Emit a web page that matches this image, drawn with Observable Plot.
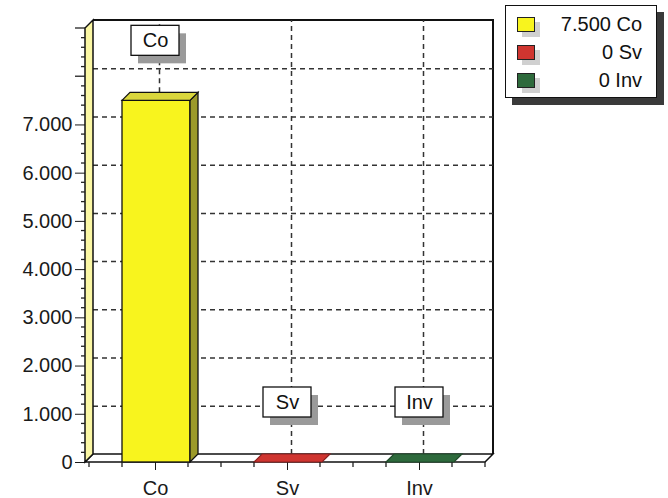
<!DOCTYPE html>
<html><head><meta charset="utf-8">
<script src="https://cdn.jsdelivr.net/npm/d3@7"></script>
<script src="https://cdn.jsdelivr.net/npm/@observablehq/plot@0.6"></script>
<style>
body{margin:0;background:#fff;}
#wrap{position:relative;width:668px;height:498px;font-family:"Liberation Sans",Arial,sans-serif;}
#legend{position:absolute;left:505px;top:5px;width:150px;height:91px;border:1.5px solid #111;background:#fff;box-shadow:7px 7px 0 #3a3a3a;}
.row{position:absolute;left:0;right:0;height:28px;}
.sw{position:absolute;left:11px;top:7px;width:16px;height:13px;border:1.2px solid #222;box-shadow:5px 5px 0 #d0d0d0;}
.lt{position:absolute;right:14px;top:0;line-height:28px;font-size:20px;color:#111;}
</style></head>
<body><div id="wrap"><div id="chart"></div><div id="legend"></div></div>
<script>
// ---- data ----
const categories = ["Co", "Sv", "Inv"];
const values = [7500, 0, 0];
const yTickValues = [0, 1000, 2000, 3000, 4000, 5000, 6000, 7000];
const yGridValues = [1000, 2000, 3000, 4000, 5000, 6000, 7000, 8000];
const yMax = 9000;

// ---- styles ----
const frontColors = ["#f8f41e", "#cf3530", "#2e6a3c"];
const topColors = ["#d9d63c", "#cf3530", "#2e6a3c"];
const sideColors = ["#9c9a2a", "#8a2020", "#1f4a2a"];
const D = 8; // 3D depth in px
const BAR_INSET_L = 33, BAR_INSET_R = 31;

const fmt = v => d3.format(",")(v).replace(/,/g, ".");
const data = categories.map((c, i) => ({cat: c, value: values[i], i}));

const custom = draw => (index, scales, vals, dims) => {
  const g = d3.create("svg:g");
  draw(g, scales.x, scales.y, dims);
  return g.node();
};

const chart = Plot.plot({
  width: 668, height: 498,
  marginLeft: 85, marginRight: 183, marginTop: 28, marginBottom: 36,
  style: {fontFamily: "Liberation Sans, Arial, sans-serif", fontSize: "20px", color: "#1a1a1a", background: "transparent", overflow: "visible"},
  color: {type: "identity"},
  x: {type: "band", domain: categories, padding: 0, insetLeft: 4, tickSize: 8, tickPadding: 10, label: null},
  y: {domain: [0, yMax], ticks: yTickValues, tickFormat: fmt, tickSize: 10, tickPadding: 3, label: null},
  marks: [
    // back wall frame (top + right edge)
    custom((g, x, y) => {
      const [r0, r1] = x.range();
      const xl = r0 - 4;
      g.append("path")
        .attr("d", `M${xl + D},${y(yMax) - D}H${r1 + D}V${y(0) - D}`)
        .attr("fill", "none").attr("stroke", "#111").attr("stroke-width", 2);
    }),
    // dashed back-wall gridlines
    Plot.ruleY(yGridValues, {dx: D, dy: -D, stroke: "#333", strokeWidth: 1.5, strokeDasharray: "5,4"}),
    // floor and left wall
    custom((g, x, y) => {
      const [r0, r1] = x.range();
      const xl = r0 - 4, y0 = y(0), yt = y(yMax);
      g.append("path")
        .attr("d", `M${xl},${y0}H${r1}L${r1 + D},${y0 - D}H${xl + D}Z`)
        .attr("fill", "#fff").attr("stroke", "#111").attr("stroke-width", 1.5);
      g.append("path")
        .attr("d", `M${xl},${y0}V${yt}L${xl + D},${yt - D}V${y0 - D}Z`)
        .attr("fill", "#fbf7a4").attr("stroke", "#111").attr("stroke-width", 1.5);
    }),
    // vertical dashed leader lines
    Plot.ruleX(data, {x: "cat", y1: "value", y2: () => yMax, dx: 4, dy: -D, stroke: "#333", strokeWidth: 1.5, strokeDasharray: "5,4"}),
    // bar fronts
    Plot.barY(data, {x: "cat", y: "value", fill: d => frontColors[d.i], insetLeft: BAR_INSET_L, insetRight: BAR_INSET_R, stroke: "#111", strokeWidth: 1.3}),
    // bar top and side faces
    custom((g, x, y) => {
      data.forEach(d => {
        const x1 = x(d.cat) + BAR_INSET_L, x2 = x(d.cat) + x.bandwidth() - BAR_INSET_R;
        const yt = y(d.value), yb = y(0);
        if (yb - yt > 0.5) {
          g.append("path")
            .attr("d", `M${x2},${yt}L${x2 + D},${yt - D}V${yb - D}L${x2},${yb}Z`)
            .attr("fill", sideColors[d.i]).attr("stroke", "#111").attr("stroke-width", 1.3);
        }
        g.append("path")
          .attr("d", `M${x1},${yt}H${x2}L${x2 + D},${yt - D}H${x1 + D}Z`)
          .attr("fill", topColors[d.i])
          .attr("stroke", yb - yt > 0.5 ? "#111" : sideColors[d.i]).attr("stroke-width", 1.2);
      });
    }),
    // label boxes with shadows
    custom((g, x, y) => {
      data.forEach(d => {
        const cx = x(d.cat) + x.bandwidth() / 2, cy = y(d.value) - 60;
        g.append("rect").attr("x", cx - 24 + 7).attr("y", cy - 15 + 8).attr("width", 48).attr("height", 30).attr("fill", "#9a9a9a");
        g.append("rect").attr("x", cx - 24).attr("y", cy - 15).attr("width", 48).attr("height", 30)
          .attr("fill", "#fff").attr("stroke", "#111").attr("stroke-width", 1.3);
      });
    }),
    Plot.text(data, {x: "cat", y: "value", text: "cat", dy: -60, fontSize: 20, fill: "#111"}),
    // minor ticks
    custom((g, x, y) => {
      const [r0, r1] = x.range();
      const xl = r0 - 4, y0 = y(0);
      for (let v = 200; v <= yMax; v += 200) {
        if (v % 1000 === 0 && v <= 7000) continue;
        const len = v % 1000 === 0 ? 10 : 4;
        g.append("line").attr("x1", xl - len).attr("x2", xl).attr("y1", y(v)).attr("y2", y(v))
          .attr("stroke", "#222").attr("stroke-width", 1.3);
      }
      const q = x.bandwidth() / 4;
      for (let k = 0; k <= categories.length * 4; k++) {
        if (k % 4 === 2) continue;
        const xp = r0 + k * q;
        g.append("line").attr("x1", xp).attr("x2", xp).attr("y1", y0).attr("y2", y0 + 5)
          .attr("stroke", "#222").attr("stroke-width", 1.3);
      }
    })
  ]
});
document.getElementById("chart").appendChild(chart);

// legend
const legend = d3.select("#legend");
data.forEach((d, k) => {
  const row = legend.append("div").attr("class", "row").style("top", (3.5 + k * 28) + "px");
  row.append("div").attr("class", "sw").style("background", frontColors[d.i]);
  row.append("div").attr("class", "lt").text(`${fmt(d.value)} ${d.cat}`);
});
</script>
</body></html>
